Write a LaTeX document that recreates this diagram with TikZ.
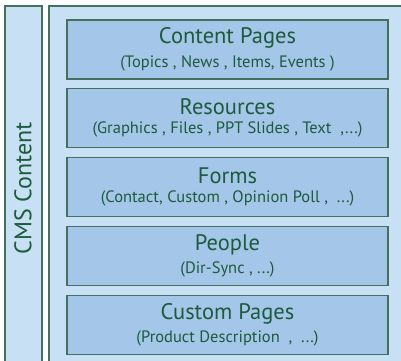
\documentclass[tikz,border=0pt]{standalone}
\usepackage{fontspec}
\setmainfont{PT Sans}
\usetikzlibrary{positioning}
\definecolor{paleblue}{HTML}{C8E0F4}
\definecolor{boxblue}{HTML}{A4C6E8}
\definecolor{darkline}{HTML}{44705F}
\definecolor{darktext}{HTML}{1E5A3C}
\newcommand{\pagelabel}[2]{{\fontsize{22.5}{24}\selectfont #1}\\[6pt]{\fontsize{16.5}{18}\selectfont #2}}
\tikzset{
    layers/.style={x=1pt,y=1pt,node distance=8.5pt,line width=1.3pt},
    pagebox/.style={rectangle,draw=darkline,fill=boxblue,text=darktext,
                    minimum width=321pt,minimum height=59pt,align=center,inner sep=0pt},
    region/.style={fill=paleblue,draw=darkline},
    }
\begin{document}
\begin{tikzpicture}[layers]
    \useasboundingbox (0,0) rectangle (401,360);
    \clip (0,0) rectangle (401,360);
    % side bar and main area
    \path[region] (5,-5) rectangle (42,354);
    \path[region] (49,-5) rectangle (410,354);
    \node[rotate=90,text=darktext,font=\fontsize{24}{26}\selectfont] (cms) at (23,172) {CMS Content};

    \node[pagebox] (content) at (227.5,310.5) {\pagelabel{Content Pages}{(Topics , News , Items, Events )}};
    \node[pagebox] (resources) [below=of content] {\pagelabel{Resources}{(Graphics , Files , PPT Slides , Text \ ,...)}};
    \node[pagebox] (forms) [below=of resources] {\pagelabel{Forms}{(Contact, Custom , Opinion Poll , \ ...)}};
    \node[pagebox] (people) [below=of forms] {\pagelabel{People}{(Dir-Sync , ...)}};
    \node[pagebox] (custom) [below=of people] {\pagelabel{Custom Pages}{(Product Description \ , \ ...)}};
\end{tikzpicture}
\end{document}
